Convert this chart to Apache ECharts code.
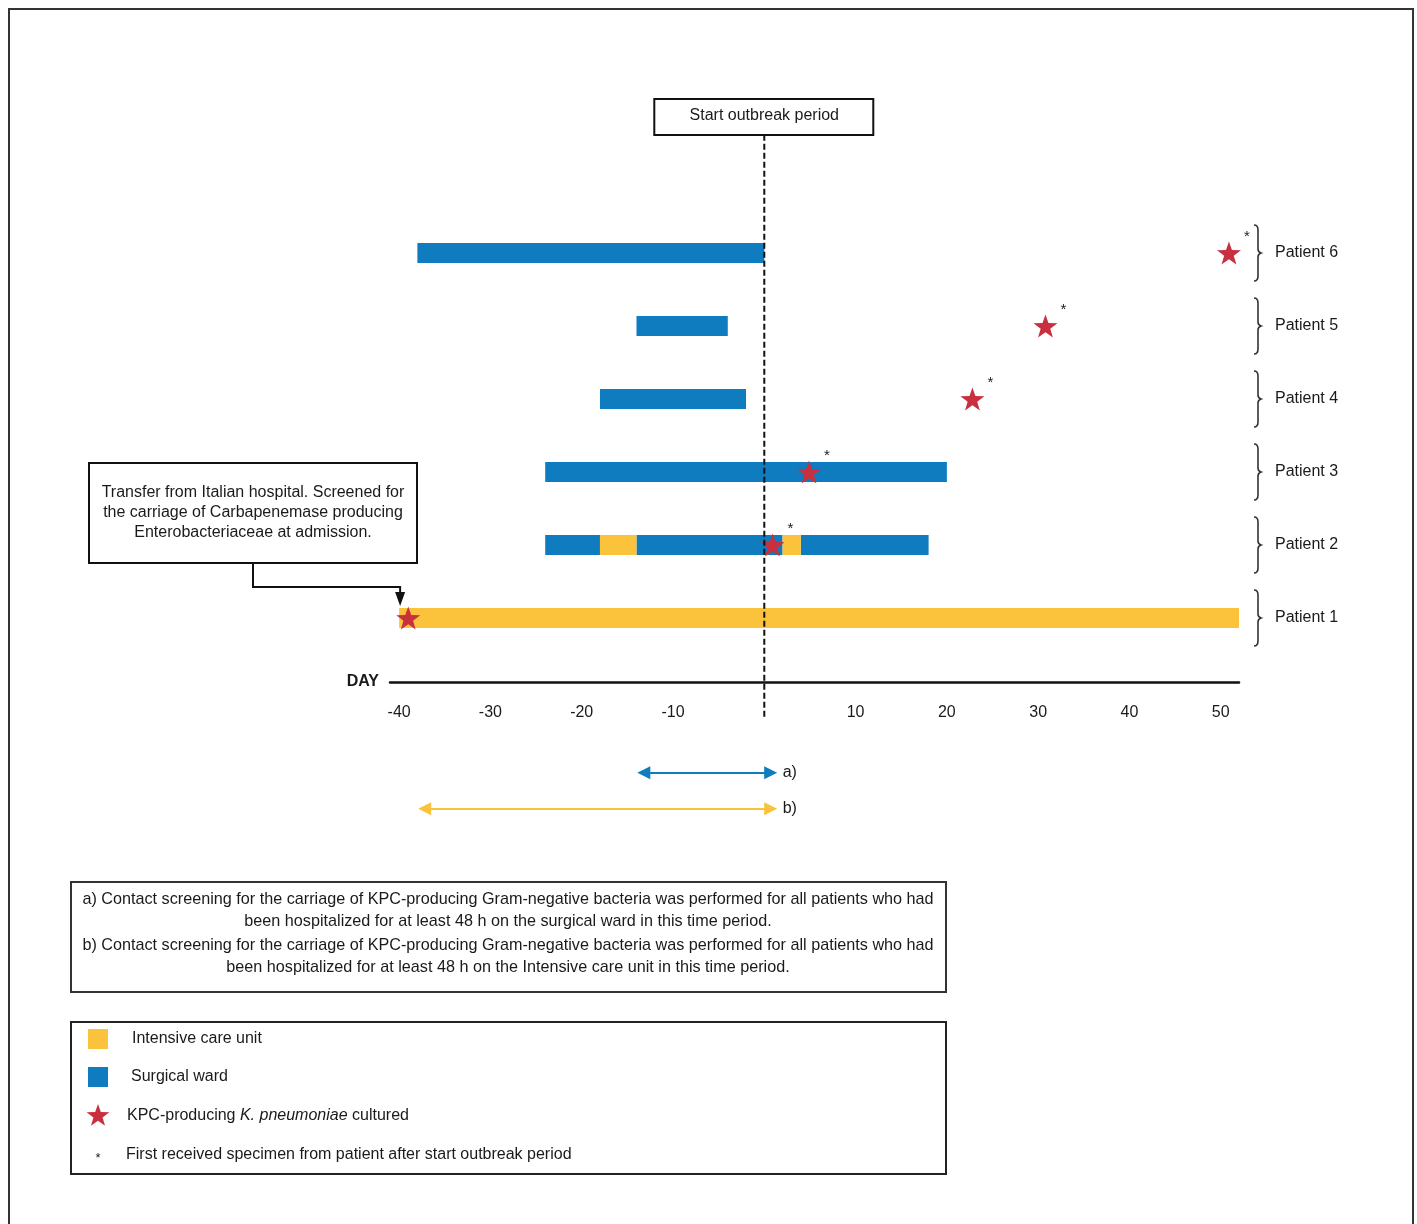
<!DOCTYPE html>
<html>
<head>
<meta charset="utf-8">
<script src="https://cdn.jsdelivr.net/npm/echarts@6/dist/echarts.min.js"></script>
<style>html,body{margin:0;padding:0;background:#fff}#c{width:1417px;height:1224px}</style>
</head>
<body>
<div id="c"></div>
<script>
// ---------- data ----------
const patients = ['Patient 1','Patient 2','Patient 3','Patient 4','Patient 5','Patient 6'];
// [patient row, start day, end day]
const icuSegments = [[1,-40,52],[2,-18,-14],[2,2,4]];
const wardSegments = [[6,-38,0],[5,-14,-4],[4,-18,-2],[3,-24,20],[2,-24,-18],[2,-14,2],[2,4,18]];
// [patient row, day, first specimen after start]
const kpcCultures = [[6,50.9,1],[5,30.8,1],[4,22.8,1],[3,4.9,1],[2,0.9,1],[1,-39,0]];
const tickDays = [-40,-30,-20,-10,10,20,30,40,50];
// screening windows: [label, from day, to day, row]
const screening = [['a)',-13.2,0.7,-1.12],['b)',-37.2,0.7,-1.615]];
const outbreakStart = 0;

const BLUE = '#0e7cbf', YELLOW = '#fbc23b', RED = '#c9303f', INK = '#1a1a1a';
const FONT = '"Liberation Sans", Arial, sans-serif';
const XMIN = -41, XMAX = 52, YMIN = 0.123, YMAX = 7.62, UNIT = 73;
const DASH_BOTTOM = -0.37;

function starPath(){
  const pts=[];
  for(let i=0;i<10;i++){
    const r = i%2===0 ? 50 : 20;
    const a = -Math.PI/2 + i*Math.PI/5;
    pts.push([(50+r*Math.cos(a)).toFixed(2),(50+r*Math.sin(a)).toFixed(2)]);
  }
  return 'path://M'+pts.map(p=>p.join(',')).join(' L')+' Z';
}
function starPoints(cx,cy,R){
  const pts=[];
  for(let i=0;i<10;i++){
    const r = i%2===0 ? R : R*0.4;
    const a = -Math.PI/2 + i*Math.PI/5;
    pts.push([cx+r*Math.cos(a), cy+r*Math.sin(a)]);
  }
  return pts;
}

const chart = echarts.init(document.getElementById('c'), null, {renderer:'canvas'});

function barSeries(data,color){
  return {
    type:'custom', z:2, data:data.map(d=>[d[1],d[2],d[0]]),
    encode:{x:[0,1],y:2},
    renderItem:function(params,api){
      const s = api.coord([api.value(0),api.value(2)]);
      const e = api.coord([api.value(1),api.value(2)]);
      return {type:'rect', shape:{x:s[0], y:s[1]-10, width:e[0]-s[0], height:20}, style:{fill:color}};
    }
  };
}

const gridTop = 682 - (YMAX-YMIN)*UNIT;

const option = {
  animation:false,
  backgroundColor:'#fff',
  grid:{left:390, right:1417-1239, top:gridTop, bottom:1224-682, containLabel:false},
  xAxis:{
    type:'value', min:XMIN, max:XMAX,
    name:'DAY', nameLocation:'start', nameGap:11,
    nameTextStyle:{fontFamily:FONT, fontSize:16, fontWeight:'bold', color:INK, padding:[4,0,0,0]},
    axisLine:{show:true, onZero:false, lineStyle:{color:'#111', width:2.5}},
    axisTick:{show:false},
    splitLine:{show:false},
    axisLabel:{customValues:tickDays, margin:23, fontFamily:FONT, fontSize:16, color:INK}
  },
  yAxis:{type:'value', min:YMIN, max:YMAX, show:false, splitLine:{show:false}},
  series:[
    barSeries(wardSegments, BLUE),
    barSeries(icuSegments, YELLOW),
    {
      type:'scatter', z:3, clip:false,
      symbol:starPath(), symbolSize:[24,23],
      itemStyle:{color:RED, opacity:1},
      data:kpcCultures.map(d=>({value:[d[1],d[0]], flag:d[2]})),
      label:{show:true, position:'inside', offset:[18,-16], fontFamily:FONT, fontSize:15, color:INK,
        formatter:p=>p.data.flag? '*' : ''}
    },
    {
      type:'line', z:4, clip:false, symbol:'none', silent:true,
      data:[[outbreakStart,YMAX],[outbreakStart,DASH_BOTTOM]],
      lineStyle:{color:'#111', width:2, type:[6,3]}
    },
    {
      type:'custom', z:3,
      data:patients.map((p,i)=>[i+1]),
      encode:{y:0},
      renderItem:function(params,api){
        const row = api.value(0);
        const p = api.coord([XMAX,row]);
        const x0 = p[0]+19, yc = p[1];
        const d = `M${x0-4},${yc-28} Q${x0},${yc-28} ${x0},${yc-23} L${x0},${yc-4} Q${x0},${yc-1} ${x0+3},${yc} Q${x0},${yc+1} ${x0},${yc+4} L${x0},${yc+23} Q${x0},${yc+28} ${x0-4},${yc+28}`;
        return {type:'group', children:[
          {type:'path', shape:{pathData:d}, style:{stroke:'#333', fill:null, lineWidth:1.6}},
          {type:'text', style:{text:patients[row-1], x:x0+17, y:yc, fontFamily:FONT, fontSize:16, fill:INK, align:'left', verticalAlign:'middle'}}
        ]};
      }
    },
    ...screening.map((s,i)=>({
      type:'lines', coordinateSystem:'cartesian2d', clip:false, z:3,
      symbol:['triangle','triangle'], symbolSize:13,
      lineStyle:{color: i===0?BLUE:YELLOW, width:2, opacity:1, curveness:0},
      label:{show:true, position:'end', distance:12, formatter:s[0], fontFamily:FONT, fontSize:16, color:INK},
      data:[{coords:[[s[1],s[3]],[s[2],s[3]]]}]
    }))
  ]
};
chart.setOption(option);

// ---------- annotations ----------
const x0 = chart.convertToPixel({gridIndex:0},[outbreakStart,1])[0];
const tip = chart.convertToPixel({gridIndex:0},[-40,1]);
const arrowX = tip[0]+1, arrowTipY = tip[1]-12;
function txt(t,x,y,align,extra){
  return Object.assign({type:'text', style:Object.assign({text:t, x:x, y:y, fontFamily:FONT, fontSize:16, fill:INK, align:align||'center', verticalAlign:'middle'}, extra||{})});
}
const descLines = [
  'a) Contact screening for the carriage of KPC-producing Gram-negative bacteria was performed for all patients who had',
  'been hospitalized for at least 48 h on the surgical ward in this time period.',
  'b) Contact screening for the carriage of KPC-producing Gram-negative bacteria was performed for all patients who had',
  'been hospitalized for at least 48 h on the Intensive care unit in this time period.'
];
const descY = [900,922,946,968];
const transferLines = ['Transfer from Italian hospital. Screened for','the carriage of Carbapenemase producing','Enterobacteriaceae at admission.'];
const g = [
  {type:'rect', shape:{x:9, y:9, width:1404, height:1260}, style:{fill:null, stroke:'#333', lineWidth:2}},
  {type:'rect', shape:{x:x0-110, y:99, width:219, height:36}, style:{fill:'#fff', stroke:'#111', lineWidth:2}},
  txt('Start outbreak period', x0, 116),
  {type:'rect', shape:{x:89, y:463, width:328, height:100}, style:{fill:'#fff', stroke:'#111', lineWidth:2}},
  ...transferLines.map((t,i)=>txt(t,253,493+i*20)),
  {type:'polyline', shape:{points:[[253,563],[253,587],[arrowX,587],[arrowX,arrowTipY-13]]}, style:{stroke:'#111', lineWidth:2, fill:null}},
  {type:'polygon', shape:{points:[[arrowX-5,arrowTipY-14],[arrowX+5,arrowTipY-14],[arrowX,arrowTipY]]}, style:{fill:'#111'}},
  {type:'rect', shape:{x:71, y:882, width:875, height:110}, style:{fill:null, stroke:'#333', lineWidth:2}},
  ...descLines.map((t,i)=>txt(t,508,descY[i],'center',{fontSize:16.2})),
  {type:'rect', shape:{x:71, y:1022, width:875, height:152}, style:{fill:null, stroke:'#222', lineWidth:2}},
  {type:'rect', shape:{x:88, y:1029, width:20, height:20}, style:{fill:YELLOW}},
  txt('Intensive care unit',132,1039,'left'),
  {type:'rect', shape:{x:88, y:1067, width:20, height:20}, style:{fill:BLUE}},
  txt('Surgical ward',131,1077,'left'),
  {type:'polygon', shape:{points:starPoints(98,1116,12)}, style:{fill:RED}},
  {type:'text', style:{text:'{n|KPC-producing }{i|K. pneumoniae}{n| cultured}', x:127, y:1116, align:'left', verticalAlign:'middle',
    rich:{n:{fontFamily:FONT, fontSize:16, fill:INK, color:INK}, i:{fontFamily:FONT, fontSize:16, fontStyle:'italic', fill:INK, color:INK}}}},
  txt('*',98,1158,'center',{fontSize:13}),
  txt('First received specimen from patient after start outbreak period',126,1155,'left')
];
chart.setOption({graphic:{elements:g}});
</script>
</body>
</html>
